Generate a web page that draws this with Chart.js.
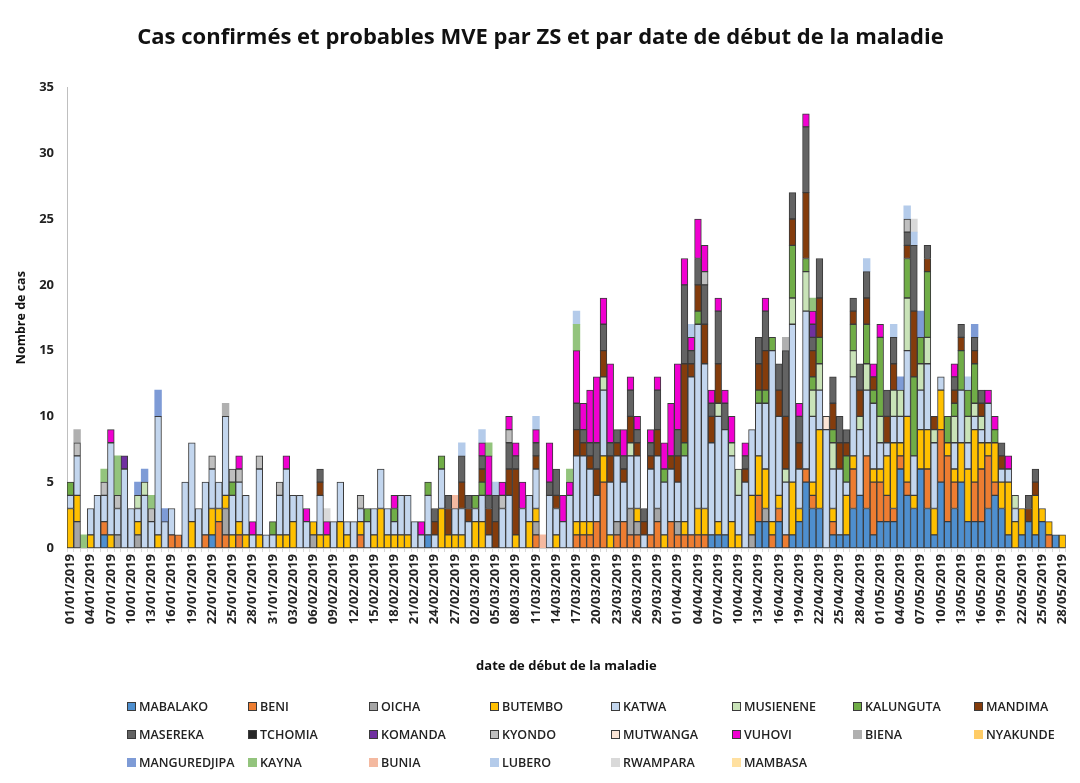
<!DOCTYPE html>
<html><head><meta charset="utf-8">
<script src="https://cdn.jsdelivr.net/npm/chart.js@4.4.1/dist/chart.umd.min.js"></script>
<style>
html,body{margin:0;padding:0;background:#fff;}
#wrap{position:relative;width:1080px;height:783px;overflow:hidden;}
#c{position:absolute;left:0;top:0;}
#legend{position:absolute;left:0;top:0;width:1080px;height:783px;font-family:"Open Sans",sans-serif;font-size:12.5px;font-weight:600;color:#222;pointer-events:none;}
.item{position:absolute;display:flex;align-items:center;white-space:nowrap;height:16px;}
.box{width:9px;height:9px;margin-right:3px;box-sizing:border-box;}
</style></head><body>
<div id="wrap"><canvas id="c" width="1080" height="690"></canvas><div id="legend"></div></div>
<script>
const TITLE = 'Cas confirmés et probables MVE par ZS et par date de début de la maladie';
const X_TITLE = 'date de début de la maladie';
const Y_TITLE = 'Nombre de cas';
const Y_TICKS = [0,5,10,15,20,25,30,35];
const DATES = [
'01/01/2019','02/01/2019','03/01/2019','04/01/2019','05/01/2019','06/01/2019','07/01/2019','08/01/2019','09/01/2019','10/01/2019',
'11/01/2019','12/01/2019','13/01/2019','14/01/2019','15/01/2019','16/01/2019','17/01/2019','18/01/2019','19/01/2019','20/01/2019',
'21/01/2019','22/01/2019','23/01/2019','24/01/2019','25/01/2019','26/01/2019','27/01/2019','28/01/2019','29/01/2019','30/01/2019',
'31/01/2019','01/02/2019','02/02/2019','03/02/2019','04/02/2019','05/02/2019','06/02/2019','07/02/2019','08/02/2019','09/02/2019',
'10/02/2019','11/02/2019','12/02/2019','13/02/2019','14/02/2019','15/02/2019','16/02/2019','17/02/2019','18/02/2019','19/02/2019',
'20/02/2019','21/02/2019','22/02/2019','23/02/2019','24/02/2019','25/02/2019','26/02/2019','27/02/2019','28/02/2019','01/03/2019',
'02/03/2019','03/03/2019','04/03/2019','05/03/2019','06/03/2019','07/03/2019','08/03/2019','09/03/2019','10/03/2019','11/03/2019',
'12/03/2019','13/03/2019','14/03/2019','15/03/2019','16/03/2019','17/03/2019','18/03/2019','19/03/2019','20/03/2019','21/03/2019',
'22/03/2019','23/03/2019','24/03/2019','25/03/2019','26/03/2019','27/03/2019','28/03/2019','29/03/2019','30/03/2019','31/03/2019',
'01/04/2019','02/04/2019','03/04/2019','04/04/2019','05/04/2019','06/04/2019','07/04/2019','08/04/2019','09/04/2019','10/04/2019',
'11/04/2019','12/04/2019','13/04/2019','14/04/2019','15/04/2019','16/04/2019','17/04/2019','18/04/2019','19/04/2019','20/04/2019',
'21/04/2019','22/04/2019','23/04/2019','24/04/2019','25/04/2019','26/04/2019','27/04/2019','28/04/2019','29/04/2019','30/04/2019',
'01/05/2019','02/05/2019','03/05/2019','04/05/2019','05/05/2019','06/05/2019','07/05/2019','08/05/2019','09/05/2019','10/05/2019',
'11/05/2019','12/05/2019','13/05/2019','14/05/2019','15/05/2019','16/05/2019','17/05/2019','18/05/2019','19/05/2019','20/05/2019',
'21/05/2019','22/05/2019','23/05/2019','24/05/2019','25/05/2019','26/05/2019','27/05/2019','28/05/2019'];

const MABALAKO = [0,0,0,0,0,1,0,0,0,0, 0,0,0,0,0,0,0,0,0,0, 0,1,0,0,0,0,0,0,0,0, 0,0,0,0,0,0,0,0,0,0, 0,0,0,0,0,0,0,0,0,0,
 0,0,0,1,0,0,0,0,0,0, 0,0,0,0,0,0,0,0,0,0, 0,0,0,0,0,0,0,0,0,0, 0,0,0,0,0,0,0,0,0,0, 0,0,0,0,0,1,1,1,0,0,
 0,0,2,2,0,2,0,1,2,5, 3,3,0,1,1,1,3,4,3,1, 2,2,2,6,4,3,6,3,1,5, 2,3,5,2,2,2,3,4,3,1, 0,1,2,1,2,0,1,0];
const BENI = [0,0,0,0,0,1,0,0,0,0, 0,0,0,0,0,1,1,0,0,0, 1,0,2,1,0,1,0,0,0,0, 0,0,0,0,0,0,0,0,0,0, 0,0,0,1,0,0,0,0,0,0,
 0,0,0,0,0,0,0,0,0,0, 0,0,0,0,0,0,0,0,0,1, 0,0,0,0,0,1,1,1,2,5, 0,1,2,1,1,0,1,2,0,2, 1,1,1,1,1,0,0,0,0,0,
 0,0,2,0,1,1,1,0,0,1, 1,0,0,1,0,0,3,0,4,4, 3,2,1,1,1,0,0,3,0,4, 5,2,0,0,3,4,4,1,0,0, 0,0,0,0,0,1,0,0];
const OICHA = [0,2,0,0,0,0,0,1,0,0, 1,0,0,0,0,0,0,0,0,0, 0,0,0,2,0,0,0,0,0,0, 0,0,0,0,0,0,1,0,0,0, 0,0,0,0,0,0,0,0,0,0,
 0,0,0,0,0,0,0,0,0,0, 0,0,0,0,0,0,0,0,0,1, 0,0,0,0,0,0,0,0,0,0, 0,1,0,2,1,0,0,1,0,0, 1,0,0,0,0,0,0,0,0,0,
 0,1,0,1,0,0,0,0,0,0, 0,0,0,0,0,0,0,0,0,0, 0,0,0,0,0,0,0,0,0,0, 0,0,0,0,0,0,0,0,0,0, 0,0,0,0,0,0,0,0];
const BUTEMBO = [3,2,0,1,0,0,1,0,0,0, 1,0,0,1,0,0,0,0,2,0, 0,2,1,1,1,1,1,0,1,0, 0,1,1,2,0,0,1,1,1,0, 2,1,0,1,0,1,3,1,1,1,
 1,0,0,0,0,3,1,1,1,0, 2,2,0,0,0,0,1,0,2,1, 0,0,1,0,0,1,1,1,0,2, 1,0,0,0,1,0,0,0,1,0, 0,1,0,2,2,0,1,0,2,1,
 0,3,3,3,1,1,0,4,1,0, 1,6,0,1,0,3,1,0,0,1, 1,3,5,1,5,1,3,3,2,3, 1,1,3,4,4,2,1,3,2,4, 2,2,0,3,1,1,0,1];
const KATWA = [1,3,0,2,4,2,7,2,6,3, 1,4,2,9,2,2,0,5,6,3, 4,3,2,6,3,3,3,1,5,1, 1,3,5,2,4,2,0,3,0,2, 3,1,2,1,2,2,3,2,1,3,
 3,2,1,3,1,3,0,2,2,2, 1,2,1,0,3,4,0,3,2,3, 0,4,2,2,4,5,5,4,2,5, 4,5,3,4,4,1,5,4,4,4, 3,5,12,14,11,7,8,8,5,3,
 5,5,4,5,13,6,4,12,3,12, 5,3,9,3,5,1,6,5,5,5, 2,1,2,2,5,3,3,5,5,1, 0,2,4,2,1,1,3,0,1,1, 1,0,0,0,0,0,0,0];
const MUSIENENE = [0,0,0,0,0,0,0,0,0,0, 1,1,0,0,0,0,0,0,0,0, 0,0,0,0,0,0,0,0,0,0, 0,0,0,0,0,0,0,0,0,0, 0,0,0,0,0,0,0,0,0,0,
 0,0,0,0,0,0,0,0,0,0, 0,0,0,0,0,0,0,0,0,0, 0,0,0,0,0,0,0,0,0,1, 0,0,0,1,0,0,0,0,0,0, 0,0,0,0,0,0,1,0,1,2,
 0,0,0,0,0,0,1,2,0,3, 2,2,0,2,0,0,2,1,2,0, 2,0,2,2,4,0,2,2,1,0, 0,2,0,2,1,1,0,0,0,0, 1,0,0,0,0,0,0,0];
const KALUNGUTA = [1,0,0,0,0,0,0,0,0,0, 0,0,0,0,0,0,0,0,0,0, 0,0,0,0,1,0,0,0,0,0, 1,0,0,0,0,0,0,0,0,0, 0,0,0,0,1,0,0,0,1,0,
 0,0,0,1,0,1,0,0,0,0, 1,1,0,0,0,0,0,0,0,0, 0,0,0,0,0,0,0,0,0,0, 0,0,0,0,0,0,0,0,1,0, 0,1,0,1,0,0,0,0,0,0,
 0,0,1,1,1,0,0,4,0,1, 1,2,0,1,0,2,2,0,3,1, 6,0,0,0,3,6,2,5,0,0, 2,1,3,2,3,0,0,1,0,0, 0,0,0,0,0,0,0,0];
const MANDIMA = [0,0,0,0,0,0,0,0,0,0, 0,0,0,0,0,0,0,0,0,0, 0,0,0,0,0,0,0,0,0,0, 0,0,0,0,0,0,0,1,0,0, 0,0,0,0,0,0,0,0,0,0,
 0,0,0,0,1,0,2,0,2,1, 0,1,2,2,0,2,5,0,0,1, 0,0,1,0,0,2,1,1,2,2, 2,1,1,2,1,1,1,2,0,1, 2,6,1,2,3,2,3,0,0,0,
 1,0,2,3,0,2,4,2,2,5, 2,3,0,2,2,1,1,2,2,1, 0,2,2,0,1,5,0,1,1,0, 0,1,1,0,1,1,0,0,1,0, 0,0,1,1,0,0,0,0];
const MASEREKA = [0,0,0,0,0,0,0,0,0,0, 0,0,0,0,0,0,0,0,0,0, 0,0,0,0,0,0,0,0,0,0, 0,0,0,0,0,0,0,1,0,0, 0,0,0,0,0,0,0,0,0,0,
 0,0,0,0,1,0,1,0,2,1, 0,1,1,2,0,2,1,0,0,1, 0,1,2,0,0,2,1,1,2,2, 1,1,1,2,1,1,1,3,0,0, 2,6,1,2,3,1,4,2,0,0,
 1,0,2,3,0,2,5,2,2,5, 1,3,0,2,2,1,1,2,2,0, 0,2,2,0,1,5,0,1,0,0, 0,1,1,0,1,1,0,0,1,0, 0,0,1,1,0,0,0,0];
const TCHOMIA = [0,0,0,0,0,0,0,0,0,0, 0,0,0,0,0,0,0,0,0,0, 0,0,0,0,0,0,0,0,0,0, 0,0,0,0,0,0,0,0,0,0, 0,0,0,0,0,0,0,0,0,0,
 0,0,0,0,0,0,0,0,0,0, 0,0,0,0,0,0,0,0,0,0, 0,0,0,0,0,0,0,0,0,0, 0,0,0,0,0,0,0,0,0,0, 0,0,0,0,0,0,0,0,0,0,
 0,0,0,0,0,0,0,0,0,0, 0,0,0,0,0,0,0,0,0,0, 0,0,0,0,0,0,0,0,0,0, 0,0,0,0,0,0,0,0,0,0, 0,0,0,0,0,0,0,0];
const KOMANDA = [0,0,0,0,0,0,0,0,1,0, 0,0,0,0,0,0,0,0,0,0, 0,0,0,0,0,0,0,0,0,0, 0,0,0,0,0,0,0,0,0,0, 0,0,0,0,0,0,0,0,0,0,
 0,0,0,0,0,0,0,0,0,0, 0,0,0,0,0,0,0,0,0,0, 0,0,0,0,0,0,0,0,0,0, 0,0,0,0,0,0,0,0,0,0, 0,0,0,0,0,0,0,0,0,0,
 0,0,0,0,0,0,0,0,0,0, 1,0,0,0,0,0,0,0,0,0, 0,0,0,0,0,0,0,0,0,0, 0,0,0,0,0,0,0,0,0,0, 0,0,0,0,0,0,0,0];
const KYONDO = [0,1,0,0,0,1,0,1,0,0, 0,0,1,0,0,0,0,0,0,0, 0,1,0,0,1,1,0,0,1,0, 0,1,0,0,0,0,0,0,0,0, 0,0,0,1,0,0,0,0,0,0,
 0,0,0,0,0,0,0,0,0,0, 0,0,0,0,1,1,0,0,0,0, 0,0,0,0,0,0,0,0,0,0, 0,0,0,0,0,0,0,0,0,0, 0,0,0,0,1,0,0,0,0,0,
 0,0,0,0,0,0,0,0,0,0, 0,0,0,0,0,0,0,0,0,0, 0,0,0,0,1,0,0,0,0,0, 0,0,0,0,0,0,0,0,0,0, 0,0,0,0,0,0,0,0];
const MUTWANGA = [0,0,0,0,0,0,0,0,0,0, 0,0,0,0,0,0,0,0,0,0, 0,0,0,0,0,0,0,0,0,0, 0,0,0,0,0,0,0,0,0,0, 0,0,0,0,0,0,0,0,0,0,
 0,0,0,0,0,0,0,0,0,0, 0,0,0,0,0,0,0,0,0,0, 0,0,0,0,0,0,0,0,0,0, 0,0,0,0,0,0,0,0,0,0, 0,0,0,0,0,0,0,0,0,0,
 0,0,0,0,0,0,0,0,0,0, 0,0,1,0,0,0,0,0,0,0, 0,0,0,0,0,0,0,0,0,0, 0,0,0,0,0,0,0,0,0,0, 0,0,0,0,0,0,0,0];
const VUHOVI = [0,0,0,0,0,0,1,0,0,0, 0,0,0,0,0,0,0,0,0,0, 0,0,0,0,0,1,0,1,0,0, 0,0,1,0,0,1,0,0,1,0, 0,0,0,0,0,0,0,0,1,0,
 0,0,1,0,0,0,0,0,0,0, 0,1,3,0,1,1,1,2,0,1, 0,3,0,2,1,4,2,4,5,2, 6,0,2,1,1,0,1,1,2,4, 5,2,1,3,2,1,1,1,2,0,
 1,0,0,1,0,0,0,0,1,1, 1,0,0,0,0,0,0,0,0,1, 1,0,0,0,0,0,0,0,0,0, 0,1,0,0,0,0,1,1,0,1, 0,0,0,0,0,0,0,0];
const BIENA = [0,1,0,0,0,0,0,0,0,0, 0,0,0,0,0,0,0,0,0,0, 0,0,0,1,0,0,0,0,0,0, 0,0,0,0,0,0,0,0,0,0, 0,0,0,0,0,0,0,0,0,0,
 0,0,0,0,0,0,0,0,0,0, 0,0,0,0,0,0,0,0,0,0, 0,0,0,0,0,0,0,0,0,0, 0,0,0,0,0,0,0,0,0,0, 0,0,0,0,0,0,0,0,0,0,
 0,0,0,0,0,0,1,0,0,0, 0,0,0,0,0,0,0,0,0,0, 0,0,0,0,0,0,0,0,0,0, 0,0,0,0,0,0,0,0,0,0, 0,0,0,0,0,0,0,0];
const NYAKUNDE = [0,0,0,0,0,0,0,0,0,0, 0,0,0,0,0,0,0,0,0,0, 0,0,0,0,0,0,0,0,0,0, 0,0,0,0,0,0,0,0,0,0, 0,0,0,0,0,0,0,0,0,0,
 0,0,0,0,0,0,0,0,0,0, 0,0,0,0,0,0,0,0,0,0, 0,0,0,0,0,0,0,0,0,0, 0,0,0,0,0,0,0,0,0,0, 0,0,0,0,0,0,0,0,0,0,
 0,0,0,0,0,0,0,0,0,0, 0,0,0,0,0,0,0,0,0,0, 0,0,0,0,0,0,0,0,0,0, 0,0,0,0,0,0,0,0,0,0, 0,0,0,0,0,0,0,0];
const MANGUREDJIPA = [0,0,0,0,0,0,0,0,0,0, 1,1,0,2,1,0,0,0,0,0, 0,0,0,0,0,0,0,0,0,0, 0,0,0,0,0,0,0,0,0,0, 0,0,0,0,0,0,0,0,0,0,
 0,0,0,0,0,0,0,0,0,0, 0,0,0,0,0,0,0,0,0,0, 0,0,0,0,0,0,0,0,0,0, 0,0,0,0,0,0,0,0,0,0, 0,0,0,0,0,0,0,0,0,0,
 0,0,0,0,0,0,0,0,0,0, 0,0,0,0,0,0,0,0,0,0, 0,0,0,1,0,0,2,0,0,0, 0,0,0,0,1,0,0,0,0,0, 0,0,0,0,0,0,0,0];
const KAYNA = [0,0,1,0,0,1,0,3,0,0, 0,0,1,0,0,0,0,0,0,0, 0,0,0,0,0,0,0,0,0,0, 0,0,0,0,0,0,0,0,0,0, 0,0,0,0,0,0,0,0,0,0,
 0,0,0,0,0,0,0,0,0,0, 0,0,1,0,0,0,0,0,0,0, 0,0,0,0,1,2,0,0,0,0, 0,0,0,0,0,0,0,0,0,0, 0,0,0,0,0,0,0,0,0,0,
 0,0,0,0,0,0,0,0,0,0, 1,0,0,0,0,0,0,0,0,0, 0,0,0,0,0,0,0,0,0,0, 0,0,0,0,0,0,0,0,0,0, 0,0,0,0,0,0,0,0];
const BUNIA = [0,0,0,0,0,0,0,0,0,0, 0,0,0,0,0,0,0,0,0,0, 0,0,0,0,0,0,0,0,0,0, 0,0,0,0,0,0,0,0,0,0, 0,0,0,0,0,0,0,0,0,0,
 0,0,0,0,0,0,0,1,0,0, 0,0,0,0,0,0,0,0,0,0, 1,0,0,0,0,0,0,0,0,0, 0,0,0,0,0,0,0,0,0,0, 0,0,0,0,0,0,0,0,0,0,
 0,0,0,0,0,0,0,0,0,0, 0,0,0,0,0,0,0,0,0,0, 0,0,0,0,0,0,0,0,0,0, 0,0,0,0,0,0,0,0,0,0, 0,0,0,0,0,0,0,0];
const LUBERO = [0,0,0,0,0,0,0,0,0,0, 0,0,0,0,0,0,0,0,0,0, 0,0,0,0,0,0,0,0,0,0, 0,0,0,0,0,0,0,0,0,0, 0,0,0,0,0,0,0,0,0,0,
 0,0,0,0,0,0,0,0,1,0, 0,1,0,1,0,0,0,0,0,1, 0,0,0,0,0,1,0,0,0,0, 0,0,0,0,0,0,0,0,0,0, 0,0,1,0,0,0,0,0,0,0,
 0,0,0,0,0,0,0,0,0,0, 0,0,0,0,0,0,0,0,1,0, 0,0,1,0,1,1,0,0,0,0, 0,0,0,1,0,0,0,0,0,0, 0,0,0,0,0,0,0,0];
const RWAMPARA = [0,0,0,0,0,0,0,0,0,0, 0,0,0,0,0,0,0,0,0,0, 0,0,0,0,0,0,0,0,0,0, 0,0,0,0,0,0,0,0,1,0, 0,0,0,0,0,0,0,0,0,0,
 0,0,0,0,0,0,0,0,0,0, 0,0,0,0,0,0,0,0,0,0, 0,0,0,0,0,0,0,0,0,0, 0,0,0,0,0,0,0,0,0,0, 0,0,0,0,0,0,0,0,0,0,
 0,0,0,0,0,0,0,0,0,0, 0,0,0,0,0,0,0,0,0,0, 0,0,0,0,0,1,0,0,0,0, 0,0,0,0,0,0,0,0,0,0, 0,0,0,0,0,0,0,0];
const MAMBASA = [0,0,0,0,0,0,0,0,0,0, 0,0,0,0,0,0,0,0,0,0, 0,0,0,0,0,0,0,0,0,0, 0,0,0,0,0,0,0,0,0,0, 0,0,0,0,0,0,0,0,0,0,
 0,0,0,0,0,0,0,0,0,0, 0,0,0,0,0,0,0,0,0,0, 0,0,0,0,0,0,0,0,0,0, 0,0,0,0,0,0,0,0,0,0, 0,0,0,0,0,0,0,0,0,0,
 0,0,0,0,0,0,0,0,0,0, 0,0,0,0,0,0,0,0,0,0, 0,0,0,0,0,0,0,0,0,0, 0,0,0,0,0,0,0,0,0,0, 0,0,0,0,0,0,0,0];

const SERIES_NAMES = ['MABALAKO','BENI','OICHA','BUTEMBO','KATWA','MUSIENENE','KALUNGUTA','MANDIMA',
 'MASEREKA','TCHOMIA','KOMANDA','KYONDO','MUTWANGA','VUHOVI','BIENA','NYAKUNDE',
 'MANGUREDJIPA','KAYNA','BUNIA','LUBERO','RWAMPARA','MAMBASA'];
const SERIES_VALUES = [MABALAKO,BENI,OICHA,BUTEMBO,KATWA,MUSIENENE,KALUNGUTA,MANDIMA,
 MASEREKA,TCHOMIA,KOMANDA,KYONDO,MUTWANGA,VUHOVI,BIENA,NYAKUNDE,
 MANGUREDJIPA,KAYNA,BUNIA,LUBERO,RWAMPARA,MAMBASA];
const COLORS = ['#4E8FCF','#ED7D31','#A5A5A5','#FFC000','#C3D6EE','#C9E3B8','#70AD47','#843C0C',
 '#636363','#262626','#7030A0','#BFBFBF','#FBE5D6','#F000D0','#B0B0B0','#FFCC66',
 '#7E9BD6','#93C47D','#F4B9A0','#B4CBEA','#D9D9D9','#FFE0A0'];
const BORDERED = [1,1,1,1,1,1,1,1,1,1,1,1,1,1,0,0,0,0,0,0,0,0];

Chart.defaults.font.family = "'Open Sans', sans-serif";
Chart.defaults.color = '#222';

const datasets = SERIES_NAMES.map((name, i) => ({
  label: name,
  data: SERIES_VALUES[i].map(v => v === 0 ? null : v),
  backgroundColor: COLORS[i],
  borderColor: '#3a3a3a',
  borderWidth: BORDERED[i] ? 1 : 0,
  borderSkipped: false,
  barPercentage: 1,
  categoryPercentage: 1
}));

new Chart(document.getElementById('c'), {
  type: 'bar',
  data: { labels: DATES, datasets },
  options: {
    responsive: false,
    animation: false,
    layout: { padding: { left: 8, right: 7, top: 10, bottom: 0 } },
    plugins: {
      legend: { display: false },
      tooltip: { enabled: false },
      title: { display: true, text: TITLE, font: { size: 22, weight: 'bold' }, color: '#111',
               padding: { top: 15, bottom: 36 } }
    },
    scales: {
      x: {
        stacked: true,
        ticks: { autoSkip: false, minRotation: 90, maxRotation: 90, padding: 2,
                 font: { size: 13, weight: 'bold' }, color: '#222',
                 callback: (v, i) => (i % 3 === 0 ? DATES[i] : '') },
        grid: { display: true, drawOnChartArea: false, drawTicks: true, tickLength: 4, color: '#d9d9d9' },
        border: { color: '#d0d0d0' },
        title: { display: true, text: X_TITLE, font: { size: 13, weight: 'bold' }, color: '#111',
                 padding: { top: 4, bottom: 16 } },
        afterFit: s => { s.height = 142; }
      },
      y: {
        stacked: true, min: 0, max: 35,
        afterBuildTicks: s => { s.ticks = Y_TICKS.map(v => ({ value: v })); },
        ticks: { font: { size: 13, weight: 'bold' }, color: '#222', padding: 5 },
        grid: { display: false },
        border: { color: '#bfbfbf' },
        title: { display: true, text: Y_TITLE, font: { size: 12.5, weight: 'bold' }, color: '#111',
                 padding: { top: 6, bottom: 2 } },
        afterFit: s => { s.width = 59; }
      }
    }
  }
});

// HTML legend (3 rows x 8 columns, like the reference)
const leg = document.getElementById('legend');
SERIES_NAMES.forEach((name, i) => {
  const row = Math.floor(i / 8), col = i % 8;
  const it = document.createElement('div');
  it.className = 'item';
  it.style.left = (127 + col * 121) + 'px';
  it.style.top = (698 + row * 28) + 'px';
  const b = document.createElement('span');
  b.className = 'box';
  b.style.background = COLORS[i];
  if (BORDERED[i]) b.style.border = '1px solid #3a3a3a';
  const t = document.createElement('span');
  t.textContent = name;
  it.appendChild(b); it.appendChild(t);
  leg.appendChild(it);
});
</script>
</body></html>
